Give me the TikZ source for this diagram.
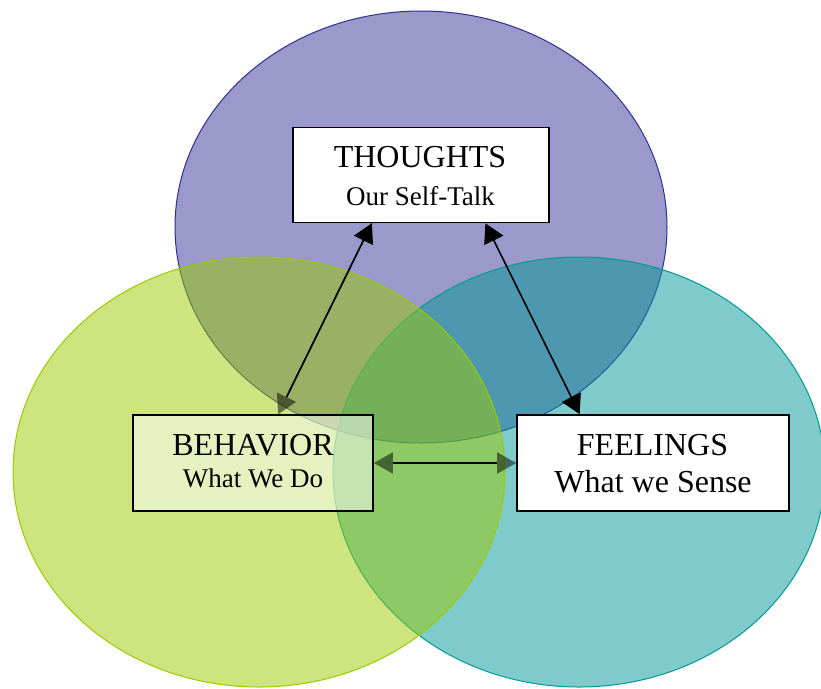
\documentclass[tikz,border=0pt]{standalone}
\usepackage{fontspec}
\setmainfont{Liberation Serif}
\usetikzlibrary{arrows.meta,calc}
\definecolor{purpfill}{RGB}{55,51,151}
\definecolor{greenfill}{RGB}{155,201,0}
\definecolor{tealfill}{RGB}{0,151,151}
\definecolor{purpline}{RGB}{46,49,146}
\definecolor{greenline}{RGB}{153,204,0}
\definecolor{tealline}{RGB}{0,153,153}
\tikzset{
  blob/.style={line width=1pt, fill opacity=0.5},
  box/.style={draw=black, line width=1.6pt, rectangle, inner sep=0pt},
  big/.style={font=\fontsize{32}{38}\selectfont, anchor=base, inner sep=0pt},
  small/.style={font=\fontsize{27}{32}\selectfont, anchor=base, inner sep=0pt},
  arr/.style={draw=black, line width=1.6pt},
  tip/.tip={Triangle[length=19pt,width=21pt]},
}
\begin{document}
\begin{tikzpicture}[x=1pt,y=-1pt]
\useasboundingbox (0,0) rectangle (821,688);
% circles
\draw[blob, draw=purpline, fill=purpfill] (421,227) ellipse [x radius=246pt, y radius=216pt];
\draw[blob, draw=tealline, fill=tealfill] (579,472) ellipse [x radius=246pt, y radius=215pt];
\draw[blob, draw=greenline, fill=greenfill] (259,472) ellipse [x radius=246pt, y radius=215pt];
% boxes
\node[box, fill=white, fill opacity=0.5, draw opacity=1, minimum width=240pt, minimum height=96pt] (behavior) at (253,463) {};
\node[box, fill=white, minimum width=256pt, minimum height=95pt] (thoughts) at (421,175) {};
\node[box, fill=white, minimum width=272pt, minimum height=96pt] (feelings) at (653,463) {};
% texts
\node[big] (thoughtsA) at (420,167) {THOUGHTS};
\node[small] (thoughtsB) at (420.5,205) {Our Self-Talk};
\node[big] (behaviorA) at (253,455) {BEHAVIOR};
\node[small] (behaviorB) at (253,487) {What We Do};
\node[big] (feelingsA) at (652.5,455) {FEELINGS};
\node[big] (feelingsB) at (653,492) {What we Sense};
% connector ends
\coordinate (t1) at ($(thoughts.south west)!0.309!(thoughts.south east)$);
\coordinate (b1) at ($(behavior.north west)!0.604!(behavior.north east)$);
\coordinate (t2) at ($(thoughts.south west)!0.75!(thoughts.south east)$);
\coordinate (f2) at ($(feelings.north west)!0.232!(feelings.north east)$);
% arrows
\begin{scope}[transparency group, opacity=0.5]
  \draw[arr, -{tip}] (t1) -- (b1);
  \draw[arr, {tip}-{tip}] (behavior.east) -- (feelings.west);
\end{scope}
\draw[arr, {tip}-, shorten >=19pt] (t1) -- (b1);
\draw[arr, {tip}-{tip}] (t2) -- (f2);
\draw[arr, shorten <=19pt, shorten >=19pt] (behavior.east) -- (feelings.west);
\end{tikzpicture}
\end{document}
